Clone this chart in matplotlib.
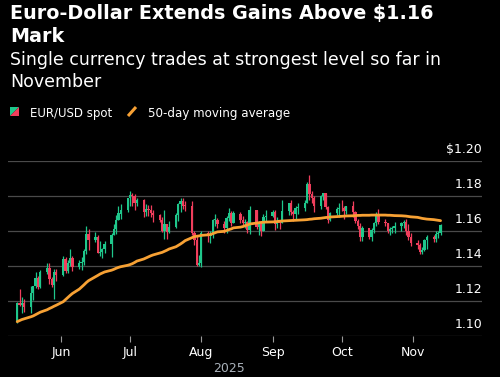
import numpy as np
import pandas as pd
import matplotlib
matplotlib.use("Agg")
import matplotlib.pyplot as plt
import matplotlib.dates as mdates
import matplotlib.transforms as mtransforms
from matplotlib.patches import Polygon

# trading days 13 May - 13 Nov 2025 (weekdays)
dates = pd.bdate_range("2025-05-13", "2025-11-13")

# EUR/USD daily candles, one row per month
opens = [
    1.1088, 1.1187, 1.1175, 1.1187, 1.1163, 1.1243, 1.1285, 1.1330, 1.1282, 1.1364, 1.1387, 1.1326, 1.1292, 1.1367,
    1.1347, 1.1442, 1.1371, 1.1420, 1.1445, 1.1396, 1.1418, 1.1424, 1.1487, 1.1585, 1.1549, 1.1563, 1.1477, 1.1480,
    1.1496, 1.1523, 1.1578, 1.1609, 1.1663, 1.1700, 1.1718,
    1.1787, 1.1803, 1.1800, 1.1758, 1.1778, 1.1707, 1.1725, 1.1719, 1.1701, 1.1690, 1.1663, 1.1598, 1.1640, 1.1597,
    1.1625, 1.1692, 1.1755, 1.1772, 1.1744, 1.1742, 1.1588, 1.1548, 1.1405,
    1.1416, 1.1590, 1.1573, 1.1575, 1.1662, 1.1665, 1.1642, 1.1615, 1.1675, 1.1705, 1.1647, 1.1700, 1.1662, 1.1648,
    1.1650, 1.1608, 1.1718, 1.1623, 1.1641, 1.1602, 1.1682,
    1.1685, 1.1710, 1.1640, 1.1659, 1.1647, 1.1717, 1.1760, 1.1708, 1.1696, 1.1734, 1.1734, 1.1762, 1.1868, 1.1814,
    1.1787, 1.1745, 1.1802, 1.1815, 1.1737, 1.1665, 1.1703, 1.1726,
    1.1734, 1.1729, 1.1716, 1.1740, 1.1710, 1.1657, 1.1628, 1.1565, 1.1617, 1.1568, 1.1607, 1.1646, 1.1690, 1.1651,
    1.1644, 1.1600, 1.1610, 1.1619, 1.1626, 1.1643, 1.1650, 1.1601, 1.1567,
    1.1533, 1.1520, 1.1480, 1.1493, 1.1549, 1.1565, 1.1557, 1.1583, 1.1587,
]
highs = [
    1.1197, 1.1266, 1.1225, 1.1212, 1.1288, 1.1288, 1.1364, 1.1345, 1.1375, 1.1419, 1.1419, 1.1339, 1.1384, 1.1384,
    1.1455, 1.1450, 1.1434, 1.1495, 1.1456, 1.1433, 1.1451, 1.1495, 1.1631, 1.1614, 1.1594, 1.1576, 1.1541, 1.1502,
    1.1542, 1.1590, 1.1641, 1.1692, 1.1744, 1.1753, 1.1790,
    1.1830, 1.1815, 1.1810, 1.1790, 1.1785, 1.1753, 1.1748, 1.1748, 1.1718, 1.1700, 1.1680, 1.1721, 1.1640, 1.1660,
    1.1702, 1.1760, 1.1788, 1.1789, 1.1770, 1.1771, 1.1600, 1.1577, 1.1465,
    1.1600, 1.1600, 1.1599, 1.1670, 1.1699, 1.1677, 1.1658, 1.1685, 1.1730, 1.1715, 1.1716, 1.1710, 1.1685, 1.1666,
    1.1655, 1.1742, 1.1720, 1.1660, 1.1651, 1.1695, 1.1720,
    1.1720, 1.1718, 1.1680, 1.1665, 1.1780, 1.1760, 1.1780, 1.1720, 1.1745, 1.1759, 1.1780, 1.1878, 1.1918, 1.1830,
    1.1801, 1.1808, 1.1819, 1.1819, 1.1745, 1.1710, 1.1737, 1.1760,
    1.1779, 1.1745, 1.1745, 1.1771, 1.1713, 1.1666, 1.1643, 1.1630, 1.1620, 1.1618, 1.1650, 1.1706, 1.1728, 1.1670,
    1.1645, 1.1623, 1.1628, 1.1650, 1.1650, 1.1665, 1.1668, 1.1640, 1.1590,
    1.1550, 1.1530, 1.1508, 1.1555, 1.1580, 1.1578, 1.1600, 1.1600, 1.1640,
]
lows = [
    1.1077, 1.1171, 1.1131, 1.1136, 1.1130, 1.1205, 1.1275, 1.1266, 1.1277, 1.1352, 1.1300, 1.1280, 1.1211, 1.1315,
    1.1345, 1.1358, 1.1358, 1.1400, 1.1373, 1.1383, 1.1380, 1.1403, 1.1470, 1.1489, 1.1535, 1.1473, 1.1459, 1.1447,
    1.1476, 1.1452, 1.1575, 1.1585, 1.1661, 1.1670, 1.1710,
    1.1745, 1.1745, 1.1718, 1.1745, 1.1680, 1.1683, 1.1685, 1.1680, 1.1650, 1.1652, 1.1593, 1.1556, 1.1557, 1.1590,
    1.1615, 1.1660, 1.1710, 1.1724, 1.1716, 1.1577, 1.1520, 1.1400, 1.1400,
    1.1392, 1.1535, 1.1530, 1.1560, 1.1630, 1.1615, 1.1590, 1.1590, 1.1658, 1.1630, 1.1645, 1.1645, 1.1636, 1.1620,
    1.1590, 1.1585, 1.1614, 1.1575, 1.1573, 1.1598, 1.1650,
    1.1682, 1.1607, 1.1620, 1.1609, 1.1646, 1.1692, 1.1690, 1.1660, 1.1662, 1.1700, 1.1715, 1.1759, 1.1779, 1.1760,
    1.1708, 1.1727, 1.1780, 1.1726, 1.1645, 1.1659, 1.1690, 1.1682,
    1.1716, 1.1670, 1.1696, 1.1680, 1.1645, 1.1610, 1.1542, 1.1541, 1.1557, 1.1542, 1.1590, 1.1630, 1.1640, 1.1630,
    1.1590, 1.1580, 1.1590, 1.1590, 1.1600, 1.1620, 1.1580, 1.1550, 1.1512,
    1.1500, 1.1470, 1.1468, 1.1485, 1.1500, 1.1540, 1.1540, 1.1560, 1.1580,
]
closes = [
    1.1187, 1.1175, 1.1187, 1.1163, 1.1243, 1.1285, 1.1330, 1.1282, 1.1364, 1.1387, 1.1326, 1.1292, 1.1367, 1.1347,
    1.1442, 1.1371, 1.1420, 1.1445, 1.1396, 1.1418, 1.1424, 1.1487, 1.1585, 1.1549, 1.1563, 1.1477, 1.1480, 1.1496,
    1.1523, 1.1578, 1.1609, 1.1663, 1.1700, 1.1718, 1.1787,
    1.1803, 1.1800, 1.1758, 1.1778, 1.1707, 1.1725, 1.1719, 1.1701, 1.1690, 1.1663, 1.1598, 1.1640, 1.1597, 1.1625,
    1.1692, 1.1755, 1.1772, 1.1744, 1.1742, 1.1588, 1.1548, 1.1405, 1.1416,
    1.1590, 1.1573, 1.1575, 1.1662, 1.1665, 1.1642, 1.1615, 1.1675, 1.1705, 1.1647, 1.1700, 1.1662, 1.1648, 1.1650,
    1.1608, 1.1718, 1.1623, 1.1641, 1.1602, 1.1682, 1.1685,
    1.1710, 1.1640, 1.1659, 1.1647, 1.1717, 1.1760, 1.1708, 1.1696, 1.1734, 1.1734, 1.1762, 1.1868, 1.1814, 1.1787,
    1.1745, 1.1802, 1.1815, 1.1737, 1.1665, 1.1703, 1.1726, 1.1734,
    1.1729, 1.1716, 1.1740, 1.1710, 1.1657, 1.1628, 1.1565, 1.1617, 1.1568, 1.1607, 1.1646, 1.1690, 1.1651, 1.1644,
    1.1600, 1.1610, 1.1619, 1.1626, 1.1643, 1.1650, 1.1601, 1.1567, 1.1533,
    1.1520, 1.1480, 1.1493, 1.1549, 1.1565, 1.1557, 1.1583, 1.1587, 1.1635,
]
# 50-day moving average
ma50 = [
    1.1082, 1.1088, 1.1094, 1.1098, 1.1110, 1.1115, 1.1122, 1.1129, 1.1136, 1.1150, 1.1157, 1.1163, 1.1170, 1.1176,
    1.1196, 1.1208, 1.1220, 1.1232, 1.1243, 1.1268, 1.1280, 1.1292, 1.1305, 1.1316, 1.1338, 1.1346, 1.1354, 1.1360,
    1.1366, 1.1376, 1.1381, 1.1387, 1.1392, 1.1396, 1.1404,
    1.1408, 1.1413, 1.1420, 1.1428, 1.1440, 1.1446, 1.1452, 1.1458, 1.1463, 1.1474, 1.1478, 1.1484, 1.1490, 1.1497,
    1.1510, 1.1518, 1.1526, 1.1535, 1.1545, 1.1562, 1.1568, 1.1570, 1.1572,
    1.1575, 1.1578, 1.1580, 1.1585, 1.1590, 1.1595, 1.1598, 1.1603, 1.1608, 1.1612, 1.1618, 1.1622, 1.1625, 1.1630,
    1.1634, 1.1640, 1.1645, 1.1647, 1.1649, 1.1650, 1.1651,
    1.1652, 1.1653, 1.1654, 1.1656, 1.1657, 1.1659, 1.1660, 1.1660, 1.1661, 1.1662, 1.1664, 1.1665, 1.1667, 1.1668,
    1.1670, 1.1673, 1.1675, 1.1677, 1.1678, 1.1680, 1.1682, 1.1683,
    1.1684, 1.1685, 1.1686, 1.1687, 1.1688, 1.1689, 1.1689, 1.1690, 1.1690, 1.1691, 1.1691, 1.1691, 1.1691, 1.1691,
    1.1690, 1.1690, 1.1689, 1.1688, 1.1687, 1.1686, 1.1685, 1.1683, 1.1681,
    1.1678, 1.1675, 1.1672, 1.1670, 1.1668, 1.1665, 1.1663, 1.1661, 1.1659,
]
assert len(dates) == len(opens) == len(highs) == len(lows) == len(closes) == len(ma50)

yticks = [1.10, 1.12, 1.14, 1.16, 1.18, 1.20]
ytick_labels = ["1.10", "1.12", "1.14", "1.16", "1.18", "$1.20"]
month_ticks = ["2025-06-01", "2025-07-01", "2025-08-01", "2025-09-01", "2025-10-01", "2025-11-01"]
month_labels = ["Jun", "Jul", "Aug", "Sep", "Oct", "Nov"]

GREEN = "#1fc78b"
RED = "#f03e5c"
ORANGE = "#f7a134"
GRID = "#4a4a4a"

W, H = 500, 377
def fx(px):
    return px / W
def fy(py):
    return 1 - py / H

plt.rcParams["font.family"] = "DejaVu Sans"
fig = plt.figure(figsize=(5, 3.77), dpi=100, facecolor="black")
ax = fig.add_axes([fx(8), fy(336), 474 / W, 175 / H], facecolor="black")

x = mdates.date2num(dates)
o = np.array(opens); h = np.array(highs); l = np.array(lows); c = np.array(closes)
up = c >= o
cols = np.where(up, GREEN, RED)

ax.vlines(x, l, h, colors=cols, lw=0.9, zorder=2)
body_bot = np.minimum(o, c)
body_h = np.maximum(np.abs(c - o), 0.0004)
ax.bar(x, body_h, bottom=body_bot, width=1.0, color=cols, lw=0, zorder=3)

ax.plot(x, ma50, color=ORANGE, lw=2, solid_capstyle="round", zorder=4)

for v in yticks:
    ax.axhline(v, color=GRID, lw=0.9, zorder=1)

ax.set_ylim(1.10, 1.20)
ax.set_xlim(mdates.date2num(pd.Timestamp("2025-05-09")), mdates.date2num(pd.Timestamp("2025-12-01")))
for s in ax.spines.values():
    s.set_visible(False)
ax.set_yticks([])
ax.set_xticks(mdates.date2num(pd.to_datetime(month_ticks)))
ax.set_xticklabels(month_labels)
ax.tick_params(axis="x", length=4.5, width=0.8, color="#9a9a9a", labelcolor="white", labelsize=9, pad=2.5)

trans = mtransforms.blended_transform_factory(ax.transAxes, ax.transData)
for v, lab in zip(yticks, ytick_labels):
    ax.annotate(lab, xy=(1.0, v), xycoords=trans, xytext=(0, 5.5), textcoords="offset points",
                ha="right", va="baseline", color="white", fontsize=9, annotation_clip=False)

# year label centred under the data range
xmid = (x[0] + x[-1]) / 2
ax.annotate("2025", xy=(xmid, 0), xycoords=("data", "axes fraction"), xytext=(0, -26),
            textcoords="offset points", ha="center", va="baseline", color="#a9b1ba", fontsize=9,
            annotation_clip=False)

# title and subtitle
fig.text(fx(10), fy(19.5), "Euro-Dollar Extends Gains Above $1.16", color="white", fontsize=13.8,
         fontweight="bold", va="baseline", ha="left")
fig.text(fx(10), fy(42.5), "Mark", color="white", fontsize=13.8, fontweight="bold", va="baseline", ha="left")
fig.text(fx(10), fy(65), "Single currency trades at strongest level so far in", color="white", fontsize=12.5,
         va="baseline", ha="left")
fig.text(fx(10), fy(87), "November", color="white", fontsize=12.5, va="baseline", ha="left")

# legend
fig.patches.append(Polygon([(fx(10), fy(107)), (fx(19), fy(107)), (fx(10), fy(116))], closed=True,
                           transform=fig.transFigure, facecolor=GREEN, lw=0))
fig.patches.append(Polygon([(fx(19), fy(107)), (fx(19), fy(116)), (fx(10), fy(116))], closed=True,
                           transform=fig.transFigure, facecolor=RED, lw=0))
fig.lines.append(plt.Line2D([fx(128), fx(136)], [fy(116), fy(107)], transform=fig.transFigure,
                            color=ORANGE, lw=2.2, solid_capstyle="butt"))
fig.text(fx(30), fy(116.5), "EUR/USD spot", color="white", fontsize=8.5, va="baseline", ha="left")
fig.text(fx(148), fy(116.5), "50-day moving average", color="white", fontsize=8.6, va="baseline", ha="left")

fig.savefig("out.png", dpi=100, facecolor="black")
